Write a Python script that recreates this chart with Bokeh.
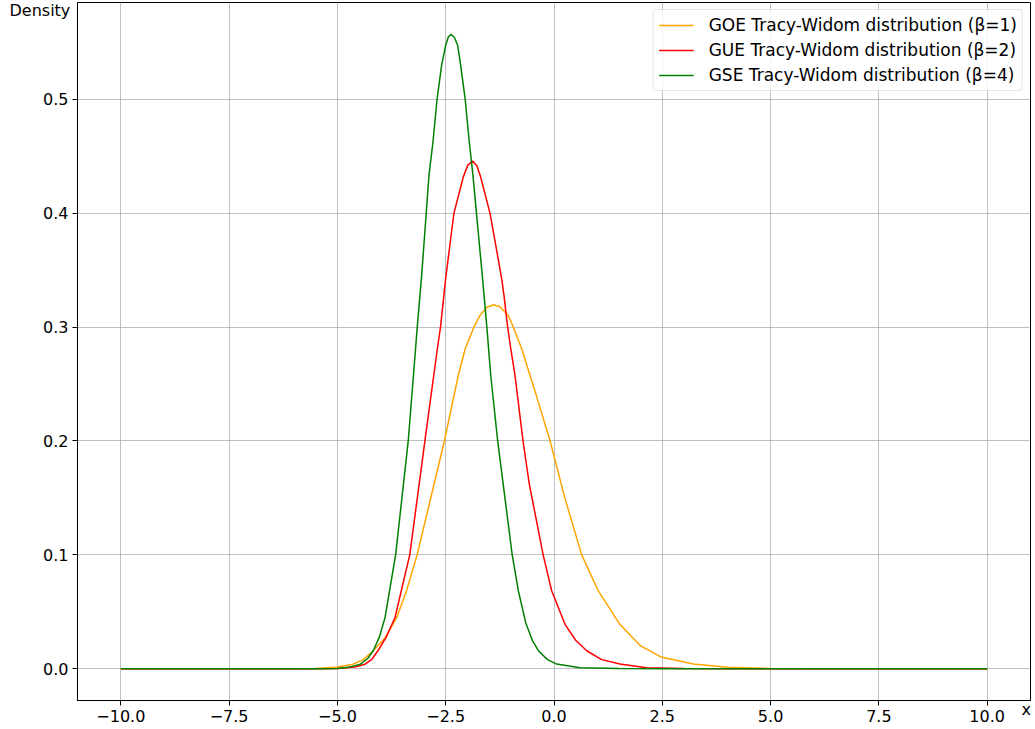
from bokeh.plotting import figure
from bokeh.models import Range1d, FixedTicker, CustomJSTickFormatter, Legend, LegendItem, Label, Title
from bokeh.embed import file_html
from bokeh.resources import INLINE

# GOE (beta=1)
goe_x = [-10.0, -6.0, -5.5, -5.0, -4.64, -4.4, -4.17, -3.9, -3.63, -3.40, -3.16, -2.53, -2.21, -2.05, -1.848,
         -1.709, -1.55, -1.40, -1.25, -1.055, -0.94, -0.746, -0.554, -0.44, -0.09, 0.25, 0.64, 1.02, 1.52,
         2.0, 2.49, 3.22, 4.0, 5.0, 6.0, 10.0]
goe_y = [0.0, 0.0, 0.0003, 0.0015, 0.004, 0.008, 0.016, 0.027, 0.045, 0.069, 0.100, 0.200, 0.2575, 0.281, 0.300,
         0.3102, 0.3174, 0.3196, 0.3178, 0.3102, 0.300, 0.281, 0.2575, 0.244, 0.200, 0.150, 0.100, 0.0685, 0.039,
         0.020, 0.010, 0.0041, 0.0013, 0.0003, 0.0, 0.0]

# GUE (beta=2)
gue_x = [-10.0, -5.5, -5.0, -4.6, -4.36, -4.2, -4.06, -3.87, -3.67, -3.33, -2.98, -2.70, -2.62, -2.50, -2.42,
         -2.31, -2.094, -1.99, -1.878, -1.78, -1.693, -1.478, -1.323, -1.208, -1.155, -1.07, -0.99, -0.90,
         -0.715, -0.57, -0.25, -0.054, 0.254, 0.50, 0.755, 1.10, 1.52, 2.14, 3.0, 4.0, 10.0]
gue_y = [0.0, 0.0, 0.0002, 0.0015, 0.004, 0.0085, 0.016, 0.028, 0.045, 0.100, 0.200, 0.279, 0.300, 0.343, 0.367,
         0.400, 0.4318, 0.4422, 0.4458, 0.4417, 0.4318, 0.400, 0.3673, 0.3424, 0.3278, 0.300, 0.279, 0.2575,
         0.200, 0.162, 0.100, 0.0685, 0.039, 0.025, 0.0158, 0.008, 0.0041, 0.0008, 0.0001, 0.0, 0.0]

# GSE (beta=4)
gse_x = [-10.0, -5.5, -5.0, -4.75, -4.47, -4.3, -4.17, -4.03, -3.90, -3.656, -3.365, -3.20, -3.157, -3.056,
         -2.95, -2.887, -2.794, -2.70, -2.594, -2.50, -2.44, -2.379, -2.30, -2.225, -2.155, -2.05, -1.956,
         -1.87, -1.79, -1.65, -1.55, -1.46, -1.30, -0.965, -0.824, -0.65, -0.50, -0.36, -0.15, 0.06, 0.6,
         1.5, 2.5, 10.0]
gse_y = [0.0, 0.0, 0.0003, 0.0012, 0.004, 0.009, 0.016, 0.028, 0.045, 0.100, 0.200, 0.279, 0.300, 0.345,
         0.400, 0.433, 0.4625, 0.500, 0.530, 0.5475, 0.5547, 0.557, 0.5545, 0.5475, 0.530, 0.500, 0.4625,
         0.433, 0.400, 0.343, 0.300, 0.2575, 0.200, 0.100, 0.0685, 0.040, 0.025, 0.0158, 0.008, 0.0041, 0.0008,
         0.0001, 0.0, 0.0]

x_ticks = [-10.0, -7.5, -5.0, -2.5, 0.0, 2.5, 5.0, 7.5, 10.0]
y_ticks = [0.0, 0.1, 0.2, 0.3, 0.4, 0.5]
labels = ["GOE Tracy-Widom distribution (\u03b2=1)",
          "GUE Tracy-Widom distribution (\u03b2=2)",
          "GSE Tracy-Widom distribution (\u03b2=4)"]
colors = ["orange", "red", "green"]
x_label = "x"
y_label = "Density"

FONT = "DejaVu Sans"

p = figure(width=1035, height=729, output_backend="svg", toolbar_location=None,
           x_range=Range1d(-11, 11), y_range=Range1d(-0.0279, 0.585),
           min_border_left=77, min_border_right=5, min_border_top=2, min_border_bottom=29)
p.background_fill_color = "white"
p.border_fill_color = "white"
p.outline_line_color = "black"
p.outline_line_width = 1

renderers = []
for xs, ys, c in [(goe_x, goe_y, colors[0]), (gue_x, gue_y, colors[1]), (gse_x, gse_y, colors[2])]:
    r = p.line(xs, ys, line_color=c, line_width=1.5)
    renderers.append(r)

fmt = CustomJSTickFormatter(code="return tick.toFixed(1).replace('-', '\\u2212');")
for ax, ticks in [(p.xaxis, x_ticks), (p.yaxis, y_ticks)]:
    ax.ticker = FixedTicker(ticks=ticks)
    ax.formatter = fmt
    ax.major_label_text_font = FONT
    ax.major_label_text_font_size = "16px"
    ax.major_label_text_color = "black"
    ax.major_tick_out = 5
    ax.major_tick_in = 0
    ax.minor_tick_out = 0
    ax.minor_tick_in = 0
    ax.major_label_standoff = 4
    ax.axis_line_color = "black"
    ax.major_tick_line_color = "black"

for g in (p.xgrid, p.ygrid):
    g.grid_line_color = "#b0b0b0"
    g.grid_line_width = 0.8

p.xgrid.ticker = FixedTicker(ticks=x_ticks)
p.ygrid.ticker = FixedTicker(ticks=y_ticks)

legend = Legend(items=[LegendItem(label=labels[i], renderers=[renderers[i]]) for i in range(3)],
                location="top_right", margin=7, padding=5, spacing=5,
                glyph_width=35, glyph_height=20, label_standoff=15,
                label_text_font=FONT, label_text_font_size="17px",
                label_text_color="black", label_height=20,
                border_line_color="#cccccc", border_line_width=1,
                background_fill_color="white", background_fill_alpha=0.8)
try:
    legend.border_radius = 4
except Exception:
    pass
p.add_layout(legend)

# "x" beside the right end of the x axis (side panel so it is not clipped to the frame)
p.add_layout(Label(x=1021, y=709, x_units="canvas", y_units="canvas", text=x_label,
                   text_align="left", text_baseline="alphabetic",
                   text_font=FONT, text_font_size="16px", text_color="black"), "left")

# "Density" beside the top of the y axis: a leading blank line pushes it down
# while the negative standoff keeps the top border thin
ttl = Title(text="\n" + y_label, align="left", offset=-68, vertical_align="top", standoff=-38,
            text_font=FONT, text_font_size="16px", text_font_style="normal", text_color="black")
p.add_layout(ttl, "above")

open("out.html", "w").write(file_html(p, INLINE))
